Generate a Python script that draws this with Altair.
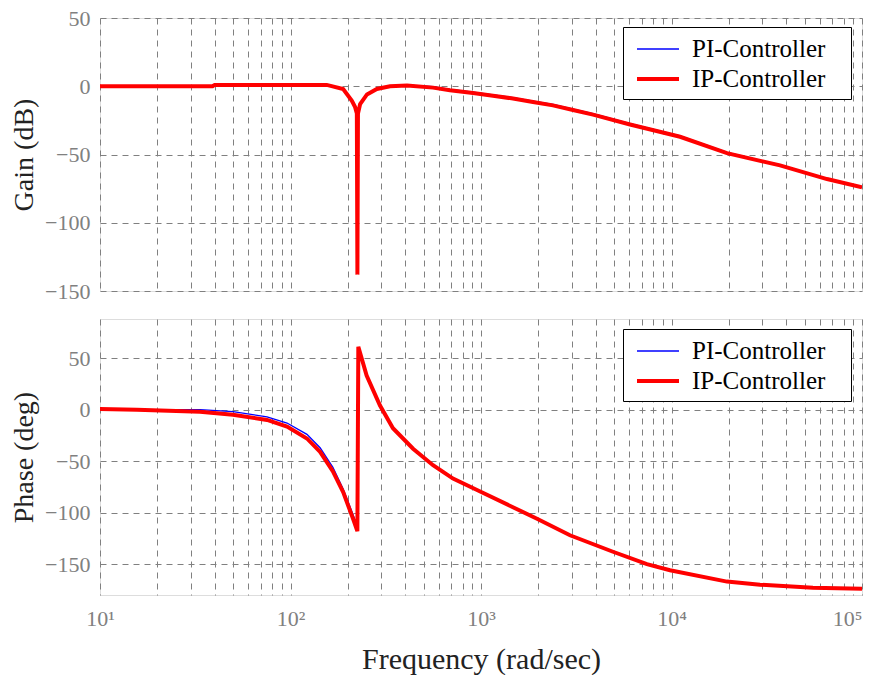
import altair as alt
import pandas as pd

series_names = ["PI-Controller", "IP-Controller"]
series_colors = ["#0000ff", "#ff0000"]
series_widths = [1.3, 4.0]

# Gain (dB)
gain_freq_ip = [10, 39, 40, 100, 155, 189, 210, 218, 223, 224.5, 226, 232, 252, 284, 333, 409,
                560, 687, 908, 1156, 1472, 1875, 2387, 3041, 3873, 6056, 11090, 19550, 37130,
                65500, 100000]
gain_db_ip = [0, 0, 1, 1, 1, -2, -10.6, -15, -20, -138, -20, -13, -6, -2, 0, 0.5,
              -1, -3, -5, -7, -9, -11.6, -14, -17.4, -20.8, -28, -37, -49, -58,
              -68, -74]
gain_freq_pi = [10, 39, 40, 100, 155, 189, 210, 218, 223, 224.5, 226, 232, 252, 284, 333, 409,
                560, 687, 908, 1156, 1472, 1875, 2387, 3041, 3873, 6056, 11090, 19550, 37130,
                65500, 100000]
gain_db_pi = [0, 0, 1, 1, 1, -1.8, -10.2, -14.5, -19.5, -80, -19.5, -12.6, -5.6, -1.6, 0.3, 0.8,
              -0.3, -2.3, -4.3, -6.3, -8.3, -10.9, -13.3, -16.7, -20.1, -27.3, -36.3, -48.4, -57.6,
              -67.8, -74]

# Phase (deg)
phase_freq_ip = [10, 15.6, 33.5, 49.9, 75.3, 95.9, 122, 143, 167, 189, 213, 224.4, 227, 251, 295,
                 345, 440, 560, 713, 953, 1968, 2931, 4929, 7430, 9820, 19550, 29150, 55300, 100000]
phase_deg_ip = [0.5, 0, -2, -5, -10, -16.5, -28, -41, -60, -80, -106, -118, 61, 33, 4,
                -18, -38, -54, -67, -78, -106, -122, -138, -150, -156, -167, -170, -173, -174]
phase_freq_pi = [10, 15.6, 33.5, 49.9, 75.3, 95.9, 122, 143, 167, 189, 213, 224, 225.5, 227.5, 251,
                 295, 345, 440, 560, 713, 953, 1968, 2931, 4929, 7430, 9820, 19550, 29150, 55300,
                 100000]
phase_deg_pi = [0.5, 0, 0, -2, -7, -13, -24, -37, -56, -77, -102, -113, -25, 57, 33,
                4, -18, -38, -54, -67, -78, -106, -122, -138, -150, -156, -167, -170, -173,
                -174]

x_grid_values = [m * 10 ** e for e in range(1, 5) for m in range(1, 10)] + [100000]
y_tick_values = [-150, -100, -50, 0, 50]

gain_df = pd.concat([
    pd.DataFrame({"freq": gain_freq_pi, "val": gain_db_pi, "series": series_names[0], "k": 0}),
    pd.DataFrame({"freq": gain_freq_ip, "val": gain_db_ip, "series": series_names[1], "k": 1}),
])
phase_df = pd.concat([
    pd.DataFrame({"freq": phase_freq_pi, "val": phase_deg_pi, "series": series_names[0], "k": 0}),
    pd.DataFrame({"freq": phase_freq_ip, "val": phase_deg_ip, "series": series_names[1], "k": 1}),
])

FONT = "Liberation Serif"
GRID = "#808080"
DASH = [6, 5]

label_expr = ("datum.value == 10 ? '10¹' : datum.value == 100 ? '10²' : "
              "datum.value == 1000 ? '10³' : datum.value == 10000 ? '10⁴' : "
              "datum.value == 100000 ? '10⁵' : ''")


def legend(ly):
    return alt.Legend(
        title=None, orient="none", legendX=523, legendY=ly,
        strokeColor="black", fillColor="white", padding=7,
        symbolType="M-1.5,0H1.5", symbolSize=784, symbolOffset=12,
        labelFont=FONT, labelFontSize=25, labelColor="black", labelOffset=18,
        labelLimit=400, rowPadding=1,
        labelExpr="datum.label + '\u2800'",
    )


def panel(df, ytitle, ydomain, show_x, ly, h):
    xs = alt.Scale(type="log", domain=[10, 100000], nice=False)
    if show_x:
        x_axis = alt.Axis(values=x_grid_values, grid=True, gridDash=DASH, gridColor=GRID,
                          ticks=False, domain=False, labelExpr=label_expr, labelFont=FONT,
                          labelFontSize=22, labelColor=GRID, labelPadding=13,
                          labelOverlap=False, labelFlush=False,
                          labelAlign=alt.condition("datum.value == 100000",
                                                   alt.value("right"), alt.value("center")),
                          title="Frequency (rad/sec)", titleFont=FONT, titleFontSize=30,
                          titleFontWeight="normal", titleColor="#222222", titlePadding=15)
        x = alt.X("freq:Q", scale=xs, axis=x_axis)
    else:
        x_axis = alt.Axis(values=x_grid_values, grid=True, gridDash=DASH, gridColor=GRID,
                          ticks=False, domain=False, labels=False, minExtent=0, maxExtent=0)
        x = alt.X("freq:Q", scale=xs, axis=x_axis, title=None)
    y_axis = alt.Axis(values=y_tick_values, grid=True, gridDash=DASH, gridColor=GRID,
                      ticks=False, domain=False, labelFont=FONT, labelFontSize=22,
                      labelColor=GRID, labelPadding=10, title=ytitle, titleFont=FONT,
                      titleFontSize=28, titleFontWeight="normal", titleColor="#222222",
                      titlePadding=6)
    return alt.Chart(df).mark_line(clip=True).encode(
        x=x,
        y=alt.Y("val:Q", scale=alt.Scale(domain=ydomain, nice=False, zero=False), axis=y_axis),
        color=alt.Color("series:N", scale=alt.Scale(domain=series_names, range=series_colors),
                        legend=legend(ly)),
        strokeWidth=alt.StrokeWidth("series:N",
                                    scale=alt.Scale(domain=series_names, range=series_widths),
                                    legend=legend(ly)),
        detail="k:N",
    ).properties(width=762, height=h)


top = panel(gain_df, "Gain (dB)", [-150, 50], False, 9, 273)
bottom = panel(phase_df, "Phase (deg)", [-180, 88], True, 10, 276)

chart = alt.vconcat(top, bottom, spacing=28, bounds="flush").resolve_legend(
    color="independent", strokeWidth="independent"
).properties(
    padding={"left": 2, "top": -2, "right": 3, "bottom": 0}
).configure_view(
    stroke="#808080", strokeWidth=1.5
).configure(background="white")

chart.save("out.html", embed_options={"renderer": "svg", "actions": False})
